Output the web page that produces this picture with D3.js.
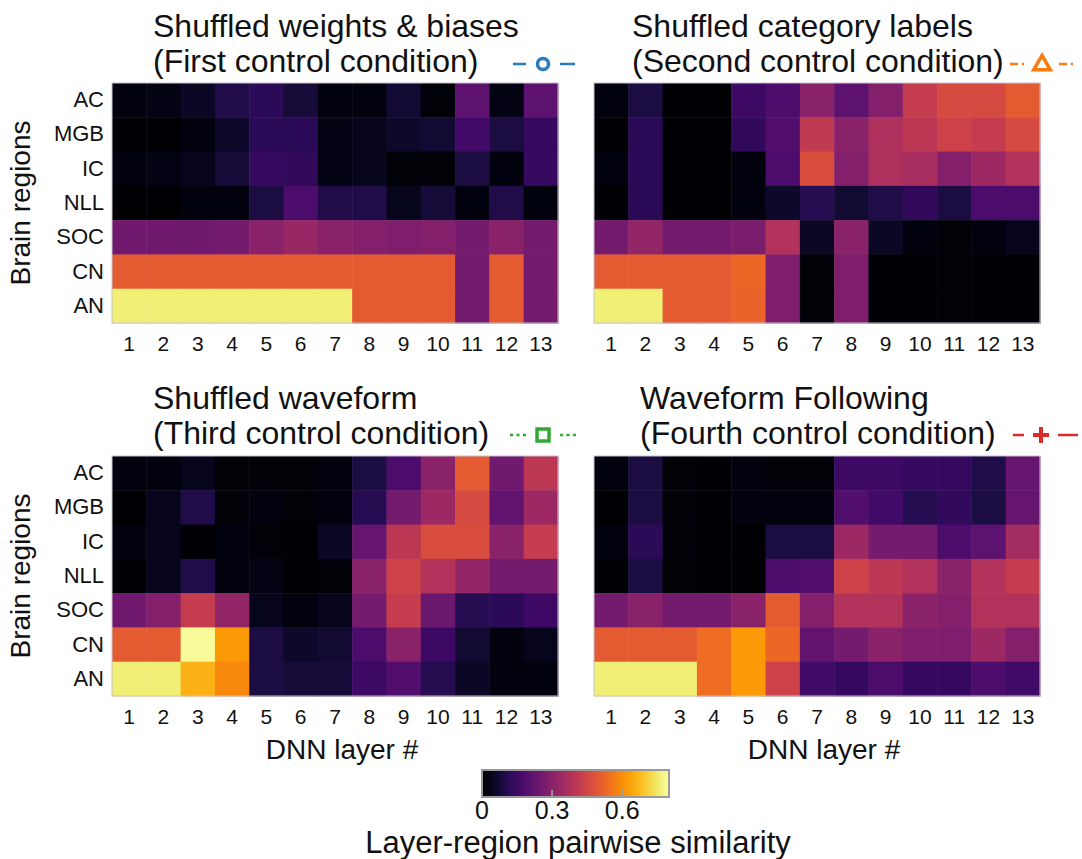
<!DOCTYPE html>
<html>
<head>
<meta charset="utf-8">
<script src="https://cdn.jsdelivr.net/npm/d3@7"></script>
<style>
  html, body { margin: 0; padding: 0; background: #fff; }
  svg { display: block; font-family: "Liberation Sans", Arial, sans-serif; }
</style>
</head>
<body>
<svg id="chart" width="1082" height="859"></svg>
<script>
// Brain regions (rows, top to bottom) and DNN layers (columns)
const regions = ["AC", "MGB", "IC", "NLL", "SOC", "CN", "AN"];
const layers = [1, 2, 3, 4, 5, 6, 7, 8, 9, 10, 11, 12, 13];
const colorTicks = [0, 0.3, 0.6];

// Layer-region pairwise similarity, one row per region
const shuffledWeights = [
  [0.02, 0.03, 0.05, 0.10, 0.12, 0.08, 0.02, 0.02, 0.07, 0.01, 0.21, 0.03, 0.21],
  [0.00, 0.00, 0.02, 0.06, 0.12, 0.12, 0.03, 0.04, 0.06, 0.07, 0.16, 0.09, 0.14],
  [0.02, 0.03, 0.04, 0.08, 0.14, 0.13, 0.03, 0.04, 0.01, 0.01, 0.09, 0.02, 0.14],
  [0.00, 0.00, 0.02, 0.02, 0.09, 0.18, 0.10, 0.10, 0.04, 0.08, 0.02, 0.10, 0.02],
  [0.25, 0.25, 0.25, 0.26, 0.30, 0.33, 0.30, 0.29, 0.28, 0.29, 0.26, 0.30, 0.26],
  [0.50, 0.50, 0.50, 0.50, 0.50, 0.50, 0.50, 0.50, 0.50, 0.50, 0.26, 0.50, 0.26],
  [0.76, 0.76, 0.76, 0.76, 0.76, 0.76, 0.76, 0.50, 0.50, 0.50, 0.26, 0.50, 0.26]
];
const shuffledLabels = [
  [0.02, 0.09, 0.00, 0.00, 0.15, 0.18, 0.30, 0.21, 0.29, 0.42, 0.46, 0.46, 0.50],
  [0.00, 0.12, 0.00, 0.00, 0.13, 0.19, 0.41, 0.30, 0.37, 0.40, 0.44, 0.42, 0.46],
  [0.02, 0.12, 0.00, 0.00, 0.02, 0.18, 0.47, 0.29, 0.37, 0.36, 0.29, 0.34, 0.38],
  [0.00, 0.12, 0.00, 0.00, 0.02, 0.06, 0.11, 0.07, 0.10, 0.13, 0.09, 0.18, 0.18],
  [0.26, 0.32, 0.26, 0.26, 0.27, 0.38, 0.05, 0.30, 0.05, 0.02, 0.01, 0.02, 0.04],
  [0.50, 0.50, 0.50, 0.50, 0.53, 0.28, 0.01, 0.28, 0.00, 0.00, 0.01, 0.00, 0.00],
  [0.76, 0.76, 0.50, 0.50, 0.52, 0.28, 0.01, 0.28, 0.00, 0.00, 0.01, 0.00, 0.00]
];
const shuffledWaveform = [
  [0.02, 0.02, 0.04, 0.01, 0.01, 0.01, 0.02, 0.09, 0.18, 0.30, 0.50, 0.25, 0.40],
  [0.00, 0.04, 0.10, 0.01, 0.02, 0.01, 0.02, 0.11, 0.26, 0.34, 0.46, 0.22, 0.34],
  [0.02, 0.04, 0.00, 0.02, 0.01, 0.00, 0.05, 0.23, 0.40, 0.47, 0.47, 0.30, 0.42],
  [0.00, 0.04, 0.10, 0.02, 0.03, 0.00, 0.01, 0.30, 0.44, 0.38, 0.32, 0.26, 0.26],
  [0.25, 0.29, 0.42, 0.32, 0.04, 0.02, 0.04, 0.26, 0.42, 0.24, 0.11, 0.12, 0.15],
  [0.50, 0.50, 0.79, 0.62, 0.09, 0.06, 0.07, 0.18, 0.30, 0.15, 0.07, 0.02, 0.04],
  [0.76, 0.76, 0.66, 0.59, 0.09, 0.08, 0.08, 0.15, 0.19, 0.11, 0.05, 0.02, 0.02]
];
const waveformFollowing = [
  [0.02, 0.09, 0.01, 0.00, 0.02, 0.01, 0.01, 0.15, 0.15, 0.14, 0.14, 0.10, 0.23],
  [0.00, 0.09, 0.01, 0.00, 0.02, 0.02, 0.02, 0.19, 0.16, 0.11, 0.13, 0.09, 0.23],
  [0.02, 0.12, 0.01, 0.00, 0.00, 0.09, 0.09, 0.34, 0.26, 0.26, 0.18, 0.21, 0.35],
  [0.00, 0.09, 0.01, 0.00, 0.00, 0.18, 0.19, 0.44, 0.40, 0.38, 0.30, 0.38, 0.42],
  [0.26, 0.30, 0.26, 0.26, 0.30, 0.50, 0.29, 0.38, 0.38, 0.30, 0.29, 0.38, 0.38],
  [0.50, 0.50, 0.50, 0.54, 0.62, 0.53, 0.22, 0.26, 0.30, 0.28, 0.28, 0.34, 0.29],
  [0.76, 0.76, 0.76, 0.54, 0.62, 0.44, 0.16, 0.14, 0.18, 0.14, 0.14, 0.18, 0.16]
];

const titles = [
  ["Shuffled weights & biases", "(First control condition)"],
  ["Shuffled category labels", "(Second control condition)"],
  ["Shuffled waveform", "(Third control condition)"],
  ["Waveform Following", "(Fourth control condition)"]
];

const svg = d3.select("#chart");
const color = d3.scaleSequential(d3.interpolateInferno).domain([0, 0.8]);
const FONT = "'Liberation Sans', Arial, sans-serif";

const cellW = 446, cellH = 240;
const panels = [
  { data: shuffledWeights, x: 112, y: 83, title: titles[0], tx: 153, ty: 37,
    marker: "circle", stroke: "#2a7bbf", dash: null, mx: 543, my: 64, lx0: 513, lx1: 575, ylab: true },
  { data: shuffledLabels, x: 594, y: 83, title: titles[1], tx: 632, ty: 37,
    marker: "triangle", stroke: "#fb7d12", dash: "8,4,2,4", mx: 1042, my: 64, lx0: 1010, lx1: 1077, ylab: false },
  { data: shuffledWaveform, x: 112, y: 456, title: titles[2], tx: 153, ty: 409,
    marker: "square", stroke: "#33a834", dash: "3,3.5", mx: 543, my: 435, lx0: 510, lx1: 577, ylab: true, xlab: true },
  { data: waveformFollowing, x: 594, y: 456, title: titles[3], tx: 640, ty: 409,
    marker: "plus", stroke: "#dc2b2b", dash: null, mx: 1041, my: 435, lx0: 1013, lx1: 1078, ylab: false, xlab: true }
];

panels.forEach(p => {
  const g = svg.append("g").attr("transform", `translate(${p.x},${p.y})`);
  const x = d3.scaleBand().domain(layers).range([0, cellW]);
  const y = d3.scaleBand().domain(regions).range([0, cellH]);

  const cells = [];
  p.data.forEach((row, ri) => row.forEach((v, ci) =>
    cells.push({ region: regions[ri], layer: layers[ci], value: v })));

  g.selectAll("rect.cell").data(cells).enter().append("rect")
    .attr("class", "cell")
    .attr("x", d => x(d.layer))
    .attr("y", d => y(d.region))
    .attr("width", x.bandwidth() + 0.5)
    .attr("height", y.bandwidth() + 0.5)
    .attr("fill", d => color(d.value));

  g.append("rect").attr("x", 0).attr("y", 0)
    .attr("width", cellW).attr("height", cellH)
    .attr("fill", "none").attr("stroke", "#c9bfd0").attr("stroke-width", 1);

  // Axes: layer numbers below, region names on the left panels
  const xAxis = g.append("g").attr("transform", `translate(0,${cellH})`)
    .call(d3.axisBottom(x).tickSize(0).tickPadding(13));
  xAxis.select(".domain").remove();
  xAxis.selectAll("text").attr("font-size", 21).attr("fill", "#111").attr("font-family", FONT);

  if (p.ylab) {
    const yAxis = g.append("g").call(d3.axisLeft(y).tickSize(0).tickPadding(8));
    yAxis.select(".domain").remove();
    yAxis.selectAll("text").attr("font-size", 22).attr("fill", "#111").attr("font-family", FONT);
    svg.append("text")
      .attr("transform", `translate(${p.x - 82},${p.y + cellH / 2}) rotate(-90)`)
      .attr("text-anchor", "middle").attr("font-size", 28).attr("fill", "#111")
      .text("Brain regions");
  }
  if (p.xlab) {
    svg.append("text").attr("x", p.x + cellW / 2 + 7).attr("y", p.y + cellH + 63)
      .attr("text-anchor", "middle").attr("font-size", 28).attr("fill", "#111")
      .text("DNN layer #");
  }

  // Two-line title
  const t = svg.append("text").attr("x", p.tx).attr("y", p.ty)
    .attr("font-size", 32).attr("fill", "#111");
  t.append("tspan").attr("x", p.tx).text(p.title[0]);
  t.append("tspan").attr("x", p.tx).attr("dy", 35).text(p.title[1]);

  // Line-style key for the condition
  const k = svg.append("g");
  const seg = (a, b) => k.append("line").attr("x1", a).attr("x2", b).attr("y1", p.my).attr("y2", p.my)
    .attr("stroke", p.stroke).attr("stroke-width", 2.5)
    .attr("stroke-dasharray", p.dash);
  seg(p.lx0, p.mx - 17);
  seg(p.mx + 17, p.lx1);
  if (p.marker === "circle") {
    k.append("circle").attr("cx", p.mx).attr("cy", p.my).attr("r", 5.5)
      .attr("fill", "none").attr("stroke", p.stroke).attr("stroke-width", 3.5);
  } else if (p.marker === "triangle") {
    k.append("path").attr("d", d3.symbol(d3.symbolTriangle, 120)())
      .attr("transform", `translate(${p.mx},${p.my + 1})`)
      .attr("fill", "none").attr("stroke", p.stroke).attr("stroke-width", 3.5);
  } else if (p.marker === "square") {
    k.append("rect").attr("x", p.mx - 6).attr("y", p.my - 6).attr("width", 12).attr("height", 12)
      .attr("fill", "none").attr("stroke", p.stroke).attr("stroke-width", 3.5);
  } else {
    k.append("path").attr("d", `M${p.mx - 8},${p.my}H${p.mx + 8}M${p.mx},${p.my - 8}V${p.my + 8}`)
      .attr("stroke", p.stroke).attr("stroke-width", 4);
  }
});

// Colour bar
const cb = { x: 482, y: 770, w: 187, h: 27 };
const cbScale = d3.scaleLinear().domain([0, 0.8]).range([0, cb.w]);
const defs = svg.append("defs");
const grad = defs.append("linearGradient").attr("id", "cbGrad");
d3.range(0, 1.0001, 0.05).forEach(s => {
  grad.append("stop").attr("offset", `${s * 100}%`).attr("stop-color", color(s * 0.8));
});
const cbG = svg.append("g").attr("transform", `translate(${cb.x},${cb.y})`);
cbG.append("rect").attr("width", cb.w).attr("height", cb.h).attr("fill", "url(#cbGrad)")
  .attr("stroke", "#999").attr("stroke-width", 2);
cbG.selectAll("line.tick").data(colorTicks.slice(1)).enter().append("line")
  .attr("x1", d => cbScale(d)).attr("x2", d => cbScale(d))
  .attr("y1", cb.h).attr("y2", cb.h - 7)
  .attr("stroke", "#999").attr("stroke-width", 2);
cbG.selectAll("text.tick").data(colorTicks).enter().append("text")
  .attr("x", d => cbScale(d)).attr("y", cb.h + 22)
  .attr("text-anchor", "middle").attr("font-size", 25).attr("fill", "#111")
  .text(d => d === 0 ? "0" : d3.format(".1f")(d));
svg.append("text").attr("x", 578).attr("y", 853)
  .attr("text-anchor", "middle").attr("font-size", 31).attr("fill", "#111")
  .text("Layer-region pairwise similarity");
</script>
</body>
</html>
